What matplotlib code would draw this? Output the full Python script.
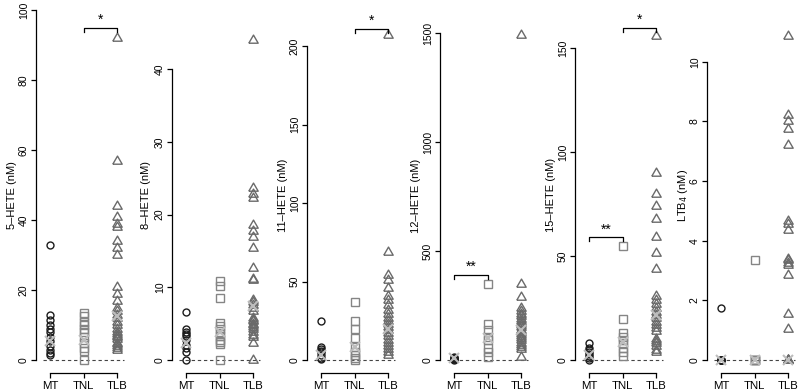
import matplotlib
matplotlib.use('Agg')
import matplotlib.pyplot as plt
import numpy as np

plt.rcParams['font.family'] = ['Liberation Sans', 'DejaVu Sans']

# ---------------- data ----------------
groups = ['MT', 'TNL', 'TLB']

ylabels = ['5–HETE (nM)', '8–HETE (nM)', '11–HETE (nM)',
           '12–HETE (nM)', '15–HETE (nM)', 'LTB$_4$ (nM)']

# 5-HETE
hete5_mt = [33, 12.8, 11.5, 10, 9, 8, 6.5, 5.5, 4, 3, 2, 1.5]
hete5_tnl = [13.5, 12.5, 11, 10, 9, 8, 6.5, 5, 3.5, 2.5, 0]
hete5_tlb = [92, 57, 44, 41, 39, 38, 34, 32, 30, 21, 19, 17, 15, 14, 13, 12,
             11, 10, 9, 8, 7.5, 7, 6.5, 6, 5, 4.5, 4, 3.5, 3]
hete5_center = [5.5, 5.7, 12.5]

# 8-HETE
hete8_mt = [6.6, 4.3, 3.9, 3.6, 3.3, 2.8, 2.1, 1.6, 1.1, 0]
hete8_tnl = [10.9, 10.2, 8.5, 5.1, 4.7, 4.2, 3.7, 3.3, 2.8, 2.5, 2.2, 0]
hete8_tlb = [44, 23.6, 22.8, 22.3, 18.6, 17.8, 16.9, 15.4, 12.6, 11.2, 11,
             8.3, 8, 7.6, 7.2, 6.8, 5.8, 5.5, 5.3, 5.0, 4.8, 4.5, 4.2, 3.8,
             3.5, 3.2, 2.4, 0]
hete8_center = [2.4, 3.9, 7.4]

# 11-HETE
hete11_mt = [25, 8, 7, 6, 5, 3, 1, 0.5]
hete11_tnl = [37, 25, 20, 14, 8, 5, 3, 1, 0]
hete11_tlb = [207, 69, 54, 51, 46, 41, 38, 35, 32, 29, 27, 25, 23, 21, 19,
              17, 15, 13, 11, 9, 7, 5, 3]
hete11_center = [3.2, 8.5, 19.6]

# 12-HETE
hete12_mt = [15, 10, 7, 5, 3, 2]
hete12_tnl = [350, 165, 140, 107, 90, 57, 38, 15]
hete12_tlb = [1490, 350, 290, 240, 225, 210, 200, 190, 180, 170, 160, 150,
              140, 130, 120, 110, 100, 90, 80, 70, 60, 50, 15]
hete12_center = [8, 100, 138]

# 15-HETE
hete15_mt = [8, 6, 5, 4, 3, 2, 1, 0]
hete15_tnl = [55, 19.5, 13, 11, 9.5, 8, 6, 4, 2]
hete15_tlb = [156, 90, 80, 74, 68, 59, 51.5, 44, 31, 29, 27, 25, 23, 21.5,
              20, 18.5, 17, 15.5, 14, 10, 9, 8, 6.5, 5, 4]
hete15_center = [2.4, 8.8, 21.7]

# LTB4
ltb4_mt = [1.75, 0, 0, 0, 0, 0]
ltb4_tnl = [3.35, 0, 0, 0, 0]
ltb4_tlb = [10.85, 8.2, 8.0, 7.75, 7.2, 4.65, 4.55, 4.35, 3.4, 3.35, 3.25,
            3.2, 2.85, 1.55, 1.05, 0, 0, 0, 0]
ltb4_center = [0, 0, 0]

panel_values = [
    (hete5_mt, hete5_tnl, hete5_tlb),
    (hete8_mt, hete8_tnl, hete8_tlb),
    (hete11_mt, hete11_tnl, hete11_tlb),
    (hete12_mt, hete12_tnl, hete12_tlb),
    (hete15_mt, hete15_tnl, hete15_tlb),
    (ltb4_mt, ltb4_tnl, ltb4_tlb),
]
panel_centers = [hete5_center, hete8_center, hete11_center,
                 hete12_center, hete15_center, ltb4_center]

yticks = [
    [0, 20, 40, 60, 80, 100],
    [0, 10, 20, 30, 40],
    [0, 50, 100, 150, 200],
    [0, 500, 1000, 1500],
    [0, 50, 100, 150],
    [0, 2, 4, 6, 8, 10],
]

# significance brackets: (panel, group_a, group_b, height, label)
sig_panel = [0, 2, 3, 4, 4]
sig_a = [2, 2, 1, 1, 2]
sig_b = [3, 3, 2, 2, 3]
sig_h = [95, 211, 390, 59, 160]
sig_lab = ['*', '*', '**', '**', '*']

# ---------------- layout ----------------
W, H = 798, 392
fig = plt.figure(figsize=(W / 100, H / 100), dpi=100)

axis_left_px = [36, 172, 307, 440, 575, 707]
top_tick_px = [10, 69.3, 46, 33.3, 48.3, 61.7]
zero_px = 360
bottom_px = 373
top_px = 3
xl = (0.58, 3.28)
unit_px = 33.5
ax_w_px = (xl[1] - xl[0]) * unit_px

colors = ['#1c1c1c', '#858585', '#6a6a6a']
tri = [(-1, -0.577), (1, -0.577), (0, 1.155), (-1, -0.577)]
markers = ['o', 's', tri]
msizes = [5.0, 5.2, 7.8]
cross_color = '#bdbdbd'

for i in range(6):
    ax = fig.add_axes([axis_left_px[i] / W, (H - bottom_px) / H,
                       ax_w_px / W, (bottom_px - top_px) / H])
    tmax = yticks[i][-1]
    s = (zero_px - top_tick_px[i]) / tmax
    ax.set_ylim(-(bottom_px - zero_px) / s, (zero_px - top_px) / s)
    ax.set_xlim(*xl)

    ax.plot([0.78, 3.22], [0, 0], ls=(0, (3, 2.5)), color='#444444',
            lw=0.8, zorder=1)

    for g in range(3):
        vals = panel_values[i][g]
        ax.plot(np.full(len(vals), g + 1), vals, ls='none',
                marker=markers[g], ms=msizes[g], mfc='none',
                mec=colors[g], mew=1.0, zorder=2, clip_on=False)
        ax.plot([g + 1], [panel_centers[i][g]], ls='none', marker='x',
                ms=6.5, mew=1.5, color=cross_color, zorder=3, clip_on=False)

    for k in range(len(sig_panel)):
        if sig_panel[k] != i:
            continue
        h = sig_h[k]
        d = 4 / s
        xa, xb = sig_a[k], sig_b[k]
        ax.plot([xa, xa, xb, xb], [h - d, h, h, h - d], color='black',
                lw=0.9, clip_on=False, zorder=4)
        ax.text((xa + xb) / 2, h + 1.0 / s, sig_lab[k], ha='center',
                va='bottom', fontsize=10, color='black')

    for sp in ['top', 'right']:
        ax.spines[sp].set_visible(False)
    ax.spines['left'].set_bounds(0, tmax)
    ax.spines['bottom'].set_bounds(1, 3)
    ax.spines['left'].set_linewidth(0.9)
    ax.spines['bottom'].set_linewidth(0.9)

    ax.set_yticks(yticks[i])
    ax.set_yticklabels([str(t) for t in yticks[i]])
    ax.set_xticks([1, 2, 3])
    ax.set_xticklabels(groups)
    ax.tick_params(axis='y', length=3.6, width=0.9, pad=1.5, labelsize=7.5)
    ax.tick_params(axis='x', length=3.6, width=0.9, pad=2, labelsize=8.2)
    for lab in ax.get_yticklabels():
        lab.set_rotation(90)
        lab.set_va('center')
        lab.set_ha('right')

    ax.set_ylabel(ylabels[i], fontsize=8)
    ax.yaxis.label.set_va('center')
    off = -26 if i == 1 else -24
    ax.yaxis.set_label_coords(off / ax_w_px, 0.48)
    ax.patch.set_alpha(0)

fig.savefig('out.png', dpi=100)
